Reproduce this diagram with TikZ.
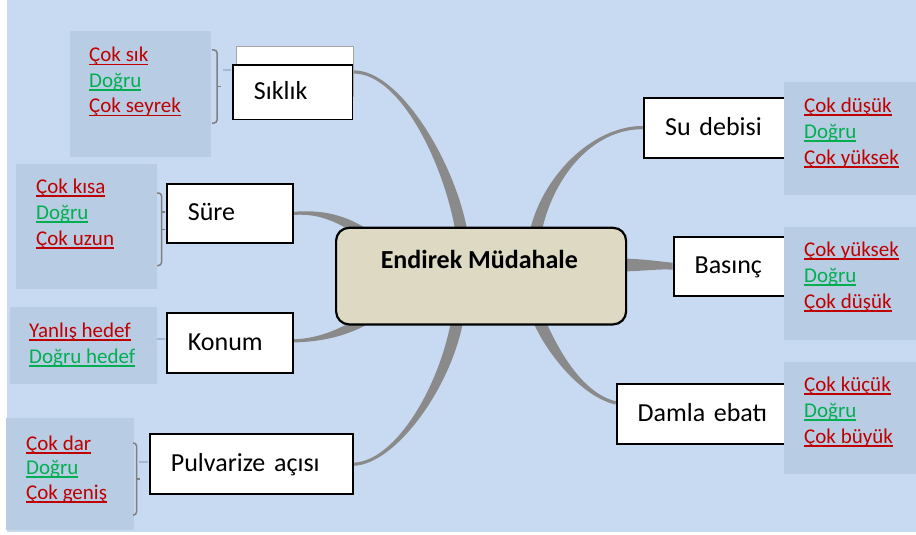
\documentclass[tikz,border=0pt]{standalone}
\usepackage{fontspec}
\setmainfont{Carlito}
\usetikzlibrary{calc,backgrounds}
\definecolor{bgblue}{HTML}{C8DAF2}
\definecolor{valblue}{HTML}{B8CCE4}
\definecolor{centerfill}{HTML}{DDD9C3}
\definecolor{linegray}{HTML}{8A8A8A}
\definecolor{brgray}{HTML}{7F7F7F}
\definecolor{dashgray}{HTML}{A4B8D0}
\definecolor{badred}{HTML}{C00000}
\definecolor{okgreen}{HTML}{00B050}
\newsavebox{\ulbox}
\newcommand{\ulx}[1]{\sbox{\ulbox}{#1}\rlap{\rule[-3.5pt]{\wd\ulbox}{1.8pt}}\usebox{\ulbox}}
% tapered branch: #1 tip name, #2 c1, #3 c2, #4 root name, #5 tip offset, #6 root offset
\newcommand{\taper}[6]{\fill[branchfill] ($(#1)+#5$) .. controls ($#2+#5$) and ($#3+#6$) .. ($(#4)+#6$) -- ($(#4)-#6$) .. controls ($#3-#6$) and ($#2-#5$) .. ($(#1)-#5$) -- cycle;}
\tikzset{
  branchfill/.style={fill=linegray, draw=none},
  branchbox/.style={draw=black, line width=1.8pt, fill=white, anchor=north west,
    font=\fontsize{26}{30}\selectfont, inner xsep=21pt, inner ysep=0pt, align=left,
    text height=17pt, text depth=2pt},
  ghostbox/.style={draw=brgray!70, line width=1.3pt, fill=white, anchor=north west, inner sep=0pt},
  centerbox/.style={draw=black, line width=2.2pt, fill=centerfill, rounded corners=13pt,
    anchor=north west, inner sep=0pt},
  valbox/.style={fill=valblue, draw=none, anchor=north west, inner sep=0pt},
  valtxt/.style={anchor=base west, inner sep=0pt, font=\fontsize{21}{25}\selectfont},
  bad/.style={valtxt, text=badred},
  good/.style={valtxt, text=okgreen},
  bracket/.style={draw=brgray, line width=1.5pt, rounded corners=3pt},
  faint/.style={draw=dashgray, line width=1.2pt},
}
\begin{document}
\begin{tikzpicture}[x=1pt, y=-1pt]
\useasboundingbox (0,0) rectangle (916,535);

% ghost box and branch nodes (boxes)
\node[ghostbox, minimum width=117, minimum height=50] (sikg) at (235.7,46) {};
\node[branchbox, text width=77.5pt, minimum height=54.5] (sik) at (232,64) {Sıklık};
\node[branchbox, text width=83.7pt, minimum height=59.6] (sur) at (166,182.7) {Süre};
\node[branchbox, text width=83.7pt, minimum height=59.4] (kon) at (166,312.3) {Konum};
\node[branchbox, text width=160.7pt, minimum height=60] (pul) at (149,433.3) {Pulvarize açısı};
\node[branchbox, text width=114.7pt, minimum height=60] (sud) at (643.3,96.7) {Su debisi};
\node[branchbox, text width=85.3pt, minimum height=59.3] (bas) at (672.7,235.7) {Basınç};
\node[branchbox, text width=142.3pt, minimum height=60.6] (dam) at (615.7,382.7) {Damla ebatı};

% connector end points
\coordinate (eSik) at ($(sik.north east)+(0,8)$);
\coordinate (eSud) at (sud.west);
\coordinate (eSur) at (sur.east);
\coordinate (eKon) at ($(kon.east)+(0,-2)$);
\coordinate (ePul) at (pul.east);
\coordinate (eDam) at ($(dam.west)+(0,-11)$);
\coordinate (eBas) at (bas.west);
\coordinate (rSik) at (462,235);
\coordinate (rSud) at (535,235);
\coordinate (rSur) at (368,236);
\coordinate (rKon) at (372,316);
\coordinate (rPul) at (458,316);
\coordinate (rDam) at (537,316);
\coordinate (rBas) at (618,265);

\begin{pgfonlayer}{background}
\fill[white] (0,0) rectangle (916,535);
\fill[bgblue] (7,0) rectangle (916,532);
% tapered connectors
\taper{eSik}{(400,71)}{(451,165)}{rSik}{(0,1.6)}{(-6,0)}
\taper{eSud}{(592,127)}{(546,178)}{rSud}{(0,-1.6)}{(-6,0)}
\taper{eSur}{(322,211)}{(345,220)}{rSur}{(0,1.6)}{(-1.8,5)}
\taper{eKon}{(322,340)}{(345,332)}{rKon}{(0,1.6)}{(1.9,4.7)}
\taper{ePul}{(396,463)}{(447,385)}{rPul}{(0,1.6)}{(6,0.6)}
\taper{eDam}{(582,395)}{(552,352)}{rDam}{(0.3,-1.6)}{(5.6,-2.2)}
\taper{eBas}{(660,265)}{(640,265)}{rBas}{(0,-3.5)}{(0,-6.5)}
\end{pgfonlayer}

% central node
\node[centerbox, minimum width=290, minimum height=96.6] (c) at (335,226.7) {};
\node[anchor=base, inner sep=0pt, font=\bfseries\fontsize{26}{30}\selectfont] (ct) at (479.3,268.3) {Endirek Müdahale};

% value boxes
\node[valbox, minimum width=141, minimum height=125.7] (vsik) at (70,31) {};
\node[valbox, minimum width=140.7, minimum height=125] (vsur) at (16,163.3) {};
\node[valbox, minimum width=146.7, minimum height=76.6] (vkon) at (10,306.7) {};
\node[valbox, minimum width=128, minimum height=112] (vpul) at (6,417.3) {};
\node[valbox, minimum width=132, minimum height=112.6] (vsud) at (784,81.7) {};
\node[valbox, minimum width=132, minimum height=113.3] (vbas) at (784,226.7) {};
\node[valbox, minimum width=132, minimum height=112.3] (vdam) at (784,361.7) {};

% brackets and faint links
\draw[bracket] (212,50) -- (217,50) -- (217,123) -- (212,123);
\draw[bracket] (217,86.5) -- (221,86.5);
\draw[faint] (223,70) -- (231,70);
\draw[bracket] (157,193) -- (161.5,193) -- (161.5,265.5) -- (157,265.5);
\draw[bracket] (161.5,229.5) -- (165,229.5);
\draw[bracket] (161.5,212) -- (165,212);
\draw[faint] (157,339) -- (165,339);
\draw[bracket] (133,443) -- (136.5,443) -- (136.5,515) -- (133,515);
\draw[bracket] (136.5,479) -- (140,479);
\draw[faint] (139,462) -- (148,462);

% value texts
\node[bad]  (s1) at (89,62)   {\ulx{Çok sık}};
\node[good] (s2) at (89,87.5) {\ulx{Doğru}};
\node[bad]  (s3) at (89,113)  {\ulx{Çok seyrek}};

\node[bad]  (u1) at (36,193.5) {\ulx{Çok kısa}};
\node[good] (u2) at (36,219.5) {\ulx{Doğru}};
\node[bad]  (u3) at (36,245.5) {\ulx{Çok uzun}};

\node[bad]  (k1) at (29,337.5) {\ulx{Yanlış hedef}};
\node[good] (k2) at (29,363.5) {\ulx{Doğru hedef}};

\node[bad]  (p1) at (26,450)   {\ulx{Çok dar}};
\node[good] (p2) at (26,474.5) {\ulx{Doğru}};
\node[bad]  (p3) at (26,499)   {\ulx{Çok geniş}};

\node[bad]  (d1) at (804,112.5) {\ulx{Çok düşük}};
\node[good] (d2) at (804,138.5) {\ulx{Doğru}};
\node[bad]  (d3) at (804,164.5) {\ulx{Çok yüksek}};

\node[bad]  (b1) at (804,256.5) {\ulx{Çok yüksek}};
\node[good] (b2) at (804,282.5) {\ulx{Doğru}};
\node[bad]  (b3) at (804,308.5) {\ulx{Çok düşük}};

\node[bad]  (m1) at (804,391.5) {\ulx{Çok küçük}};
\node[good] (m2) at (804,417.5) {\ulx{Doğru}};
\node[bad]  (m3) at (804,443)   {\ulx{Çok büyük}};
\end{tikzpicture}
\end{document}
